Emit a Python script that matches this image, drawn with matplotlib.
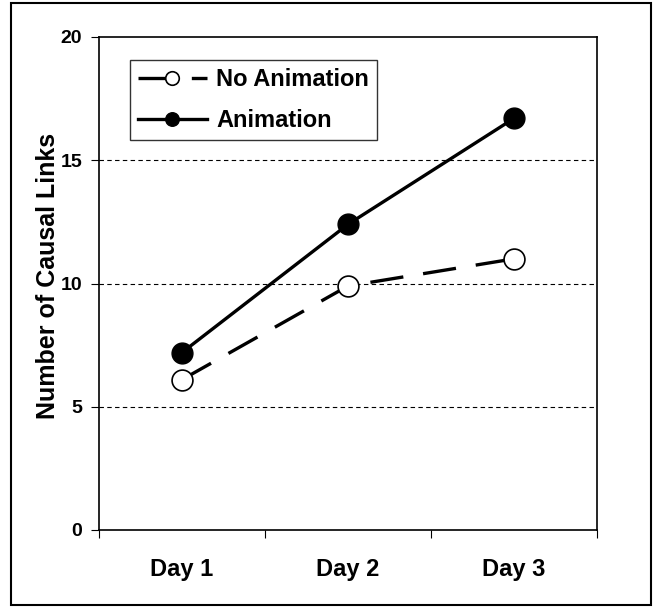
import matplotlib.pyplot as plt
from matplotlib.patches import Rectangle

days = ["Day 1", "Day 2", "Day 3"]
no_animation = [6.1, 9.9, 11.0]
animation = [7.2, 12.4, 16.7]

plt.rcParams['font.family'] = ['Liberation Sans', 'DejaVu Sans']
plt.rcParams['font.weight'] = 'bold'

fig = plt.figure(figsize=(6.53, 6.07), dpi=100)
ax = fig.add_axes([99/653, 1 - 530/607, 498/653, 493/607])

# outer frame around the chart
fig.patches.append(Rectangle((11/653, 2/607), 640/653, 602/607, transform=fig.transFigure,
                             fill=False, edgecolor="black", linewidth=1.5))

x = [0, 1, 2]
ax.plot(x, no_animation, color="black", linewidth=2.4, dashes=(10, 6),
        marker="o", markersize=15, markerfacecolor="white", markeredgecolor="black",
        markeredgewidth=1.2, label="No Animation", zorder=3)
ax.plot(x, animation, color="black", linewidth=2.4,
        marker="o", markersize=15, markerfacecolor="black", markeredgecolor="black",
        label="Animation", zorder=3)

ax.set_xlim(-0.5, 2.5)
ax.set_ylim(0, 20)
ax.set_yticks([0, 5, 10, 15, 20])
ax.set_xticks([-0.5, 0.5, 1.5, 2.5])
ax.set_xticklabels([])
ax.set_xticks(x, minor=True)
ax.set_xticklabels(days, minor=True)
ax.tick_params(axis="x", which="minor", length=0, pad=20, labelsize=17)
ax.tick_params(axis="x", which="major", length=6, direction="out")
ax.tick_params(axis="y", length=6, direction="out", labelsize=14, pad=6)

for v in [5, 10, 15]:
    ax.axhline(v, color="black", linestyle=(0, (4, 3)), linewidth=0.8, zorder=1)

for s in ax.spines.values():
    s.set_linewidth(1.2)

ax.set_ylabel("Number of Causal Links", fontsize=18, fontweight="bold")
ax.yaxis.set_label_coords(-0.078, 0.515)

leg = ax.legend(loc="upper left", bbox_to_anchor=(0.062, 0.953), borderaxespad=0,
                fontsize=17, frameon=True, fancybox=False, handlelength=2.9,
                handletextpad=0.4, borderpad=0.35, labelspacing=0.75, markerscale=0.65)
leg.get_frame().set_edgecolor("black")
leg.get_frame().set_linewidth(1.0)

fig.savefig("out.png", dpi=100)
